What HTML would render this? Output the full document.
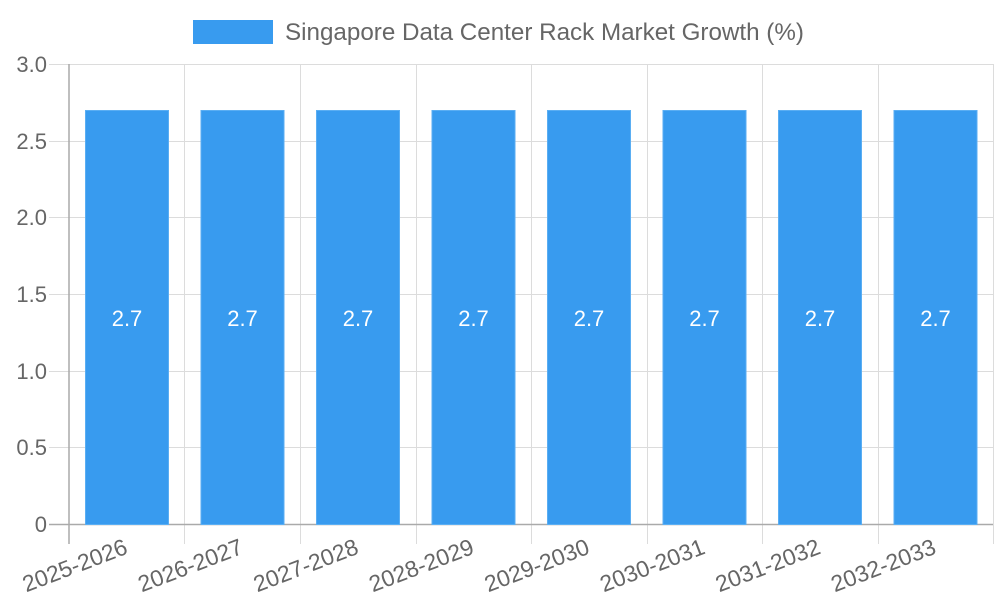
<!DOCTYPE html>
<html><head><meta charset="utf-8"><style>body{margin:0;background:#fff}svg{display:block}text{font-family:"Liberation Sans",sans-serif}</style></head>
<body>
<svg width="1000" height="600" xmlns="http://www.w3.org/2000/svg">
<rect x="193" y="20" width="80" height="24" fill="#389bef"/>
<text x="285" y="40" font-size="24.2" fill="#666">Singapore Data Center Rack Market Growth (%)</text>
<g stroke="#dcdcdc" stroke-width="1">
<line x1="49" y1="64.5" x2="993" y2="64.5"/>
<line x1="49" y1="141.5" x2="993" y2="141.5"/>
<line x1="49" y1="217.5" x2="993" y2="217.5"/>
<line x1="49" y1="294.5" x2="993" y2="294.5"/>
<line x1="49" y1="371.5" x2="993" y2="371.5"/>
<line x1="49" y1="447.5" x2="993" y2="447.5"/>
<line x1="184.5" y1="64" x2="184.5" y2="544"/>
<line x1="300.5" y1="64" x2="300.5" y2="544"/>
<line x1="416.5" y1="64" x2="416.5" y2="544"/>
<line x1="531.5" y1="64" x2="531.5" y2="544"/>
<line x1="647.5" y1="64" x2="647.5" y2="544"/>
<line x1="762.5" y1="64" x2="762.5" y2="544"/>
<line x1="878.5" y1="64" x2="878.5" y2="544"/>
<line x1="993.5" y1="64" x2="993.5" y2="544"/>
</g>
<g stroke="#aaa" stroke-width="1.5">
<line x1="69" y1="64" x2="69" y2="544"/>
<line x1="49" y1="524.5" x2="993" y2="524.5"/>
</g>
<g fill="#389bef" stroke="#5aaef3" stroke-width="1">
<rect x="85.5" y="110.5" width="83" height="414"/>
<rect x="201" y="110.5" width="83" height="414"/>
<rect x="316.5" y="110.5" width="83" height="414"/>
<rect x="432" y="110.5" width="83" height="414"/>
<rect x="547.5" y="110.5" width="83" height="414"/>
<rect x="663" y="110.5" width="83" height="414"/>
<rect x="778.5" y="110.5" width="83" height="414"/>
<rect x="894" y="110.5" width="83" height="414"/>
</g>
<g fill="#fff" font-size="22" text-anchor="middle">
<text x="127" y="326">2.7</text><text x="242.5" y="326">2.7</text><text x="358" y="326">2.7</text><text x="473.5" y="326">2.7</text><text x="589" y="326">2.7</text><text x="704.5" y="326">2.7</text><text x="820" y="326">2.7</text><text x="935.5" y="326">2.7</text>
</g>
<g fill="#666" font-size="22" text-anchor="end">
<text x="47" y="72">3.0</text><text x="47" y="149">2.5</text><text x="47" y="225">2.0</text><text x="47" y="302">1.5</text><text x="47" y="379">1.0</text><text x="47" y="455">0.5</text><text x="47" y="532">0</text>
</g>
<g fill="#666" font-size="23" text-anchor="end">
<text transform="translate(129,553) rotate(-21)">2025-2026</text>
<text transform="translate(244.5,553) rotate(-21)">2026-2027</text>
<text transform="translate(360,553) rotate(-21)">2027-2028</text>
<text transform="translate(475.5,553) rotate(-21)">2028-2029</text>
<text transform="translate(591,553) rotate(-21)">2029-2030</text>
<text transform="translate(706.5,553) rotate(-21)">2030-2031</text>
<text transform="translate(822,553) rotate(-21)">2031-2032</text>
<text transform="translate(937.5,553) rotate(-21)">2032-2033</text>
</g>
</svg>
</body></html>
